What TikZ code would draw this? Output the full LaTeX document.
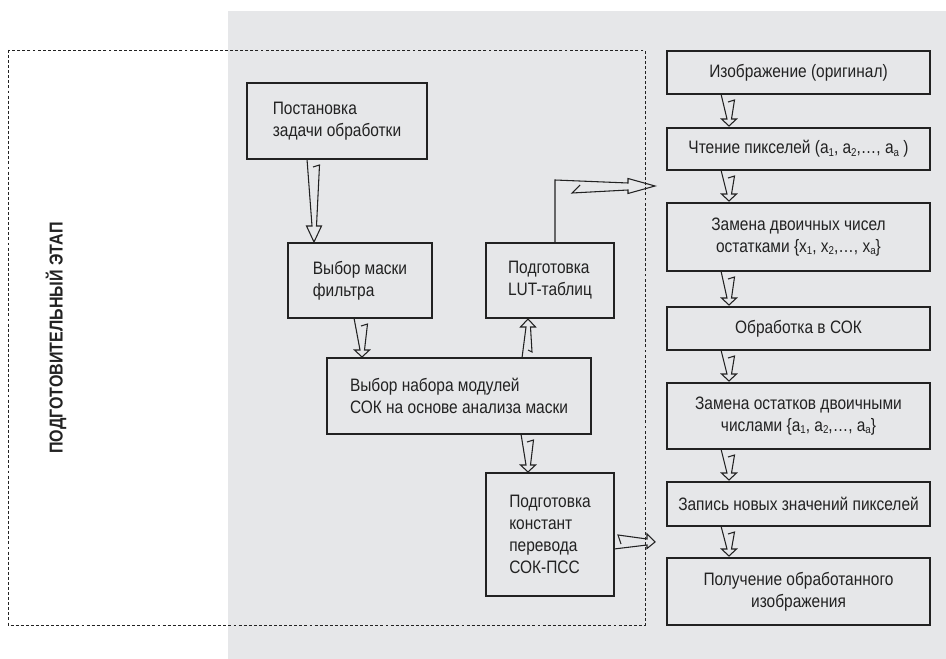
\documentclass[tikz,border=0pt]{standalone}
\usepackage{fontspec}
\setmainfont{Liberation Sans}[FakeStretch=0.86]
\usetikzlibrary{calc}
\definecolor{bg}{HTML}{E6E7E9}
\definecolor{ink}{HTML}{222222}
\newcommand\sbs[1]{\raisebox{-0.25ex}{\fontsize{8.5}{8.5}\selectfont #1}}
% hollow hand-drawn arrows: #1 start (left line), #2 tip, #3 head length
\newcommand\downarr[3]{\draw[arrline] (#1) -- ($(#2)+(-2,-#3)$) -- ($(#2)+(-7.5,-#3)$) -- (#2) -- ($(#2)+(7.5,-#3)$) -- ($(#2)+(2.5,-#3)$) -- ($(#1 -| #2)+(5.5,6)$) -- ($(#1 -| #2)+(-1,8)$);}
\newcommand\uparr[3]{\draw[arrline] (#1) -- ($(#2)+(-2,#3)$) -- ($(#2)+(-7.5,#3)$) -- (#2) -- ($(#2)+(7.5,#3)$) -- ($(#2)+(2.5,#3)$) -- ($(#1 -| #2)+(4,-6)$) -- ($(#1 -| #2)+(0,-8)$);}
\newcommand\rightarr[3]{\draw[arrline] (#1) -- ($(#2)+(-#3,3)$) -- ($(#2)+(-#3,6.5)$) -- (#2) -- ($(#2)+(-#3,-8)$) -- ($(#2)+(-#3,-3)$) -- ($(#2 -| #1)+(4,-7)$) -- ($(#2 -| #1)+(7,2)$);}
\begin{document}
\begin{tikzpicture}[x=0.75pt,y=-0.75pt,
  box/.style={draw=ink, line width=2pt, fill=bg, inner sep=0pt, outer sep=0pt,
    text=ink, font=\fontsize{13.5}{16.5}\selectfont, align=center},
  lbox/.style={box, align=left},
  rbox/.style={box, minimum width=197.25pt},
  arrline/.style={draw=ink, line width=0.8pt, line join=miter}]
\useasboundingbox (0,0) rectangle (946,659);
\fill[bg] (228,11) rectangle (946,659);
\draw[ink, line width=0.7pt, dash pattern=on 2.2pt off 1.6pt] (8,50) rectangle (645,625);
\node[rotate=90, font=\bfseries\fontsize{14}{16}\selectfont, text=ink] (label) at (56,338) {ПОДГОТОВИТЕЛЬНЫЙ ЭТАП};
% left part
\node[lbox, minimum width=135pt, minimum height=57pt] (post) at (337,121) {Постановка\\задачи обработки};
\node[lbox, minimum width=108pt, minimum height=56.25pt] (mask) at (360,280.5) {Выбор маски\\фильтра};
\node[lbox, minimum width=96pt, minimum height=56.25pt] (lut) at (550,280.5) {Подготовка\\LUT-таблиц};
\node[lbox, minimum width=198pt, minimum height=57pt] (sel) at (459,396) {Выбор набора модулей\\СОК на основе анализа маски};
\node[lbox, minimum width=96pt, minimum height=92.25pt] (konst) at (550,534.5) {Подготовка\\констант\\перевода\\СОК-ПСС};
% right column
\node[rbox, minimum height=32.25pt] (img) at (798.5,72.5) {Изображение (оригинал)};
\node[rbox, minimum height=31.5pt] (read) at (798.5,149) {Чтение пикселей (a\sbs{1}, a\sbs{2},…, a\sbs{a} )};
\node[rbox, minimum height=51pt] (repl) at (798.5,237) {Замена двоичных чисел\\остатками \{x\sbs{1}, x\sbs{2},…, x\sbs{a}\}};
\node[rbox, minimum height=32.25pt] (proc) at (798.5,328.5) {Обработка в СОК};
\node[rbox, minimum height=49.5pt] (back) at (798.5,416) {Замена остатков двоичными\\числами \{a\sbs{1}, a\sbs{2},…, a\sbs{a}\}};
\node[rbox, minimum height=33pt] (write) at (798.5,504) {Запись новых значений пикселей};
\node[rbox, minimum height=50.25pt] (get) at (798.5,591.5) {Получение обработанного\\изображения};
% arrow end points
\coordinate (a1s) at ($(post.south west)+(60,0)$);
\coordinate (a1e) at ($(mask.north west)+(26,-1)$);
\coordinate (a2s) at ($(mask.south west)+(66,0)$);
\coordinate (a2e) at ($(sel.north west)+(35,-1)$);
\coordinate (a3s) at ($(sel.north west)+(195,0)$);
\coordinate (a3e) at ($(lut.south west)+(42,1)$);
\coordinate (a4s) at ($(sel.south west)+(194,0)$);
\coordinate (a4e) at ($(konst.north west)+(42,-1)$);
\coordinate (a5s) at ($(konst.south east)+(0,-47)$);
\coordinate (a5e) at (655,542);
\coordinate (l1) at ($(lut.north west)+(69,0)$);
\coordinate (l2) at ($(l1)+(0,-63)$);
\coordinate (le) at (655,186);
\downarr{a1s}{a1e}{16}
\downarr{a2s}{a2e}{7}
\uparr{a3s}{a3e}{8}
\downarr{a4s}{a4e}{7}
\rightarr{a5s}{a5e}{8}
\draw[arrline] (l1) -- (l2) -- ($(le)+(-27,-3)$) -- ($(le)+(-27,-7.5)$) -- (le) -- ($(le)+(-27,7.5)$) -- ($(le)+(-27,4)$) -- ($(le)+(-83,7)$) -- ($(le)+(-75,-1)$);
% right column arrows
\foreach \a/\b in {img/read, read/repl, repl/proc, proc/back, back/write, write/get}{
  \coordinate (\a s) at ($(\a.south west)+(54,0)$);
  \coordinate (\b e) at ($(\b.north west)+(62,-2)$);
  \downarr{\a s}{\b e}{7}
}
\end{tikzpicture}
\end{document}
